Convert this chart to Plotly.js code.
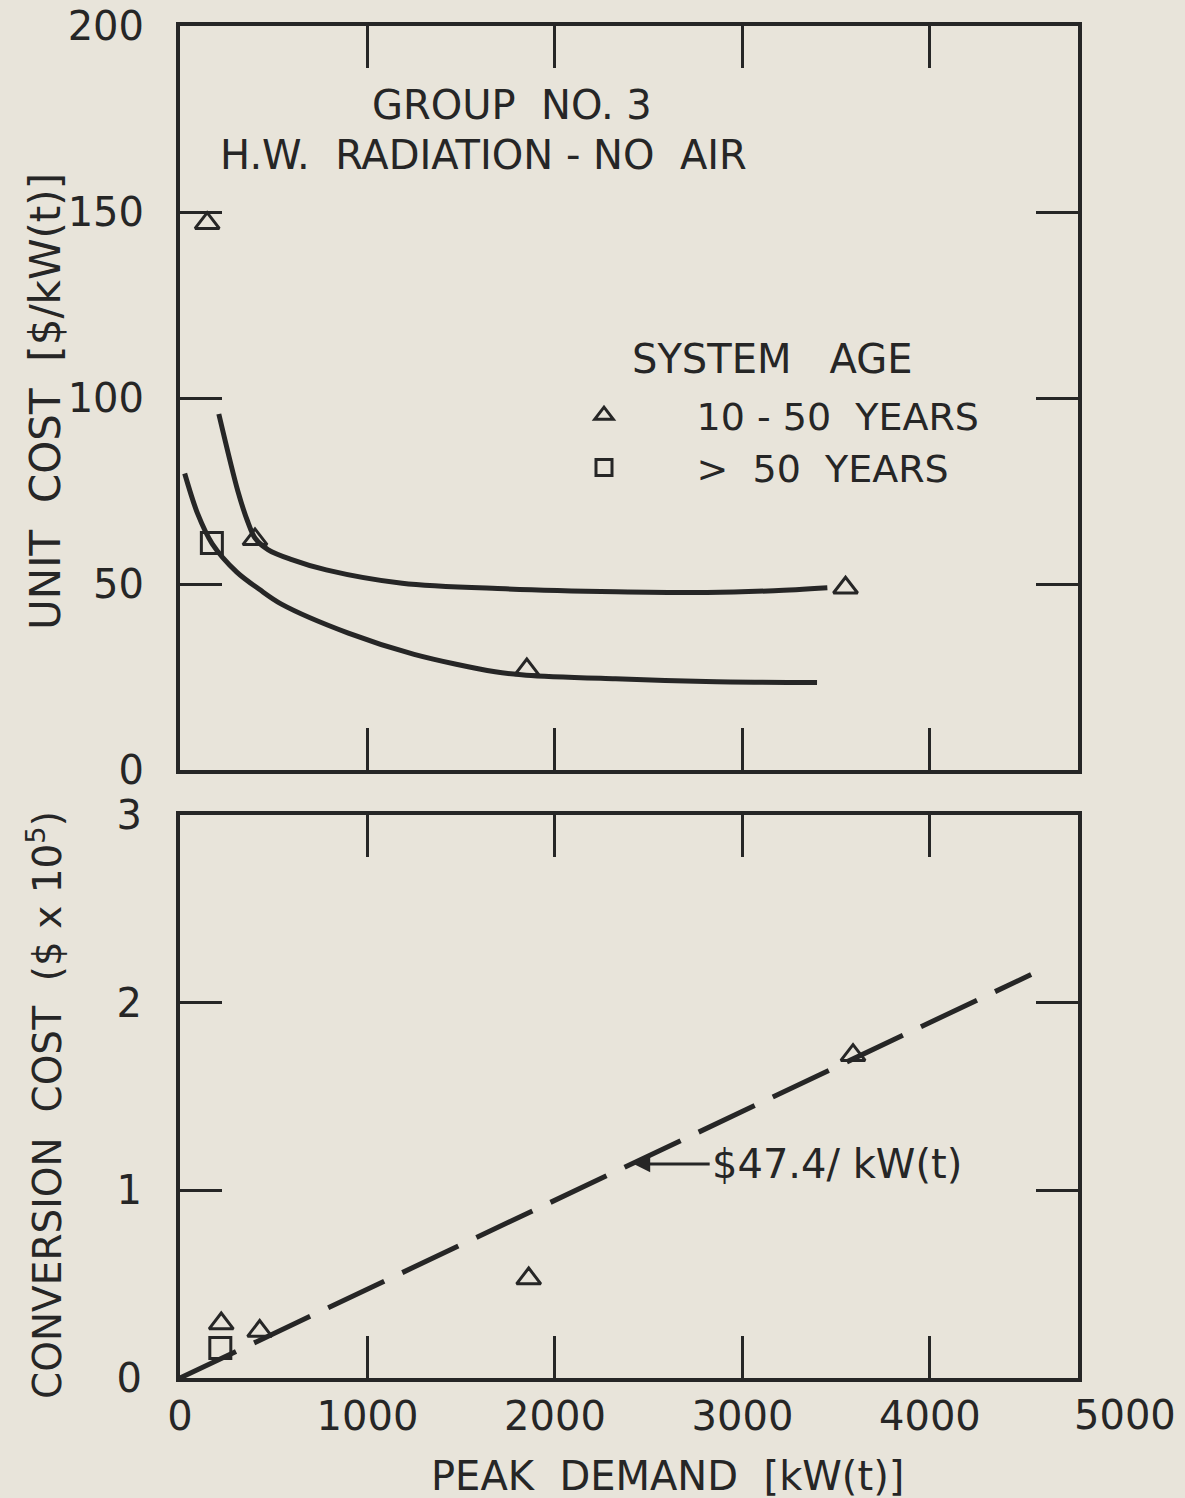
<!DOCTYPE html>
<html>
<head>
<meta charset="utf-8">
<script src="https://cdn.plot.ly/plotly-3.0.1.min.js"></script>
<style>
  html, body { margin: 0; padding: 0; background: #e8e4da; }
  #chart { width: 1185px; height: 1498px; }
</style>
</head>
<body>
<div id="chart"></div>
<script>
// ---------- data ----------
// Upper panel: unit cost [$/kW(t)] vs peak demand [kW(t)]
const unitTriX = [145, 400, 1850, 3550];      // 10-50 years
const unitTriY = [147, 62, 27, 49];
const unitSqX  = [170];                        // > 50 years
const unitSqY  = [61];
const fitUpperX = [207, 309, 361, 402, 471, 588, 780, 1185, 1736, 2329, 2811, 3169, 3453];
const fitUpperY = [95.7, 74.9, 66.8, 62.2, 59.2, 56.7, 53.8, 50.2, 48.7, 47.9, 47.7, 48.2, 49.0];
const fitLowerX = [25, 94, 172, 303, 425, 541, 898, 1249, 1681, 1847, 2323, 2804, 3398];
const fitLowerY = [79.7, 68.9, 60.8, 53.2, 48.5, 44.6, 36.8, 31.1, 26.4, 25.5, 24.5, 23.8, 23.5];

// Lower panel: conversion cost ($ x 1e5) vs peak demand
const convTriX = [220, 425, 1860, 3590];
const convTriY = [0.29, 0.25, 0.53, 1.72];
const convSqX  = [215];
const convSqY  = [0.16];
const convLineX = [0, 4540];
const convLineY = [0, 2.15];

// ticks
const xTickVals = [0, 1000, 2000, 3000, 4000];
const xTickText = ['0', '1000', '2000', '3000', '4000'];
const unitTickVals = [0, 50, 100, 150, 200];
const convTickVals = [0, 1, 2, 3];

// ---------- styling ----------
const INK = '#262626';
const BG = '#e8e4da';
const FONT = 'DejaVu Sans';
const W = 1185, H = 1498;
const px = v => v / W;
const py = v => 1 - v / H;

const xDom = [px(180), px(1078)];
const topDom = [py(770), py(26)];
const botDom = [py(1378), py(815)];
const X_RANGE = [0, 4790];

const axisCommon = {
  showline: true, linewidth: 4, linecolor: INK, mirror: 'ticks',
  ticks: 'inside', ticklen: 42, tickwidth: 3, tickcolor: INK,
  showgrid: false, zeroline: false, fixedrange: true,
  tickfont: {family: FONT, size: 40, color: INK}
};

const triMarker = {symbol: 'triangle-up-open', size: 21, color: INK, line: {width: 3, color: INK}};
const sqMarker = {symbol: 'square-open', size: 21, color: INK, line: {width: 3, color: INK}};

const traces = [
  // upper panel
  {x: fitUpperX, y: fitUpperY, xaxis: 'x2', yaxis: 'y2', mode: 'lines',
   line: {color: INK, width: 5, shape: 'spline', smoothing: 0.9}, showlegend: false, hoverinfo: 'skip'},
  {x: fitLowerX, y: fitLowerY, xaxis: 'x2', yaxis: 'y2', mode: 'lines',
   line: {color: INK, width: 5, shape: 'spline', smoothing: 0.9}, showlegend: false, hoverinfo: 'skip'},
  {x: unitTriX, y: unitTriY, xaxis: 'x2', yaxis: 'y2', mode: 'markers',
   name: '\u00a0\u00a0\u00a0\u00a0\u00a0\u00a010 - 50  YEARS', marker: triMarker},
  {x: unitSqX, y: unitSqY, xaxis: 'x2', yaxis: 'y2', mode: 'markers',
   name: '\u00a0\u00a0\u00a0\u00a0\u00a0\u00a0>  50  YEARS', marker: sqMarker},
  // lower panel
  {x: convLineX, y: convLineY, xaxis: 'x', yaxis: 'y', mode: 'lines',
   line: {color: INK, width: 5, dash: '62px,20px'}, showlegend: false, hoverinfo: 'skip'},
  {x: convTriX, y: convTriY, xaxis: 'x', yaxis: 'y', mode: 'markers', showlegend: false, marker: triMarker},
  {x: convSqX, y: convSqY, xaxis: 'x', yaxis: 'y', mode: 'markers', showlegend: false, marker: sqMarker}
];

function note(x, y, text, size, extra) {
  return Object.assign({xref: 'paper', yref: 'paper', x: px(x), y: py(y), text: text,
    showarrow: false, xanchor: 'center', yanchor: 'middle',
    font: {family: FONT, size: size, color: INK}}, extra || {});
}

const layout = {
  width: W, height: H,
  margin: {l: 0, r: 0, t: 0, b: 0},
  paper_bgcolor: BG, plot_bgcolor: BG,
  font: {family: FONT, color: INK, size: 38},
  showlegend: true,
  legend: {
    x: px(584), y: py(384), xanchor: 'left', yanchor: 'top',
    bgcolor: 'rgba(0,0,0,0)', borderwidth: 0,
    font: {family: FONT, size: 38, color: INK},
    itemclick: false, itemdoubleclick: false
  },
  xaxis: Object.assign({}, axisCommon, {
    domain: xDom, anchor: 'y', range: X_RANGE,
    tickvals: xTickVals, ticktext: xTickText, ticklabelstandoff: 0
  }),
  yaxis: Object.assign({}, axisCommon, {
    domain: botDom, anchor: 'x', range: [0, 3],
    tickvals: convTickVals, ticklabelstandoff: 26
  }),
  xaxis2: Object.assign({}, axisCommon, {
    domain: xDom, anchor: 'y2', range: X_RANGE,
    tickvals: xTickVals, showticklabels: false
  }),
  yaxis2: Object.assign({}, axisCommon, {
    domain: topDom, anchor: 'x2', range: [0, 200],
    tickvals: unitTickVals, ticklabelstandoff: 24
  }),
  annotations: [
    note(512, 105, 'GROUP  NO. 3', 40),
    note(483, 155, 'H.W.  RADIATION - NO  AIR', 40),
    note(630, 359, 'SYSTEM   AGE', 40, {xanchor: 'left'}),
    note(1125, 1415, '5000', 40),
    note(667, 1476, 'PEAK  DEMAND  [kW(t)]', 40),
    note(45, 402, 'UNIT  COST  [$/kW(t)]', 42, {textangle: -90}),
    note(45, 1105, 'CONVERSION  COST  ($ x 10<sup>5</sup>)', 39, {textangle: -90}),
    {xref: 'x', yref: 'y', x: 2420, y: 1.14, ax: 76, ay: 0, xanchor: 'left', yanchor: 'middle',
     text: '$47.4/ kW(t)', showarrow: true, arrowhead: 2, arrowsize: 1.1, arrowwidth: 3,
     arrowcolor: INK, font: {family: FONT, size: 40, color: INK}}
  ]
};

Plotly.newPlot('chart', traces, layout, {staticPlot: true, displayModeBar: false});
</script>
</body>
</html>
